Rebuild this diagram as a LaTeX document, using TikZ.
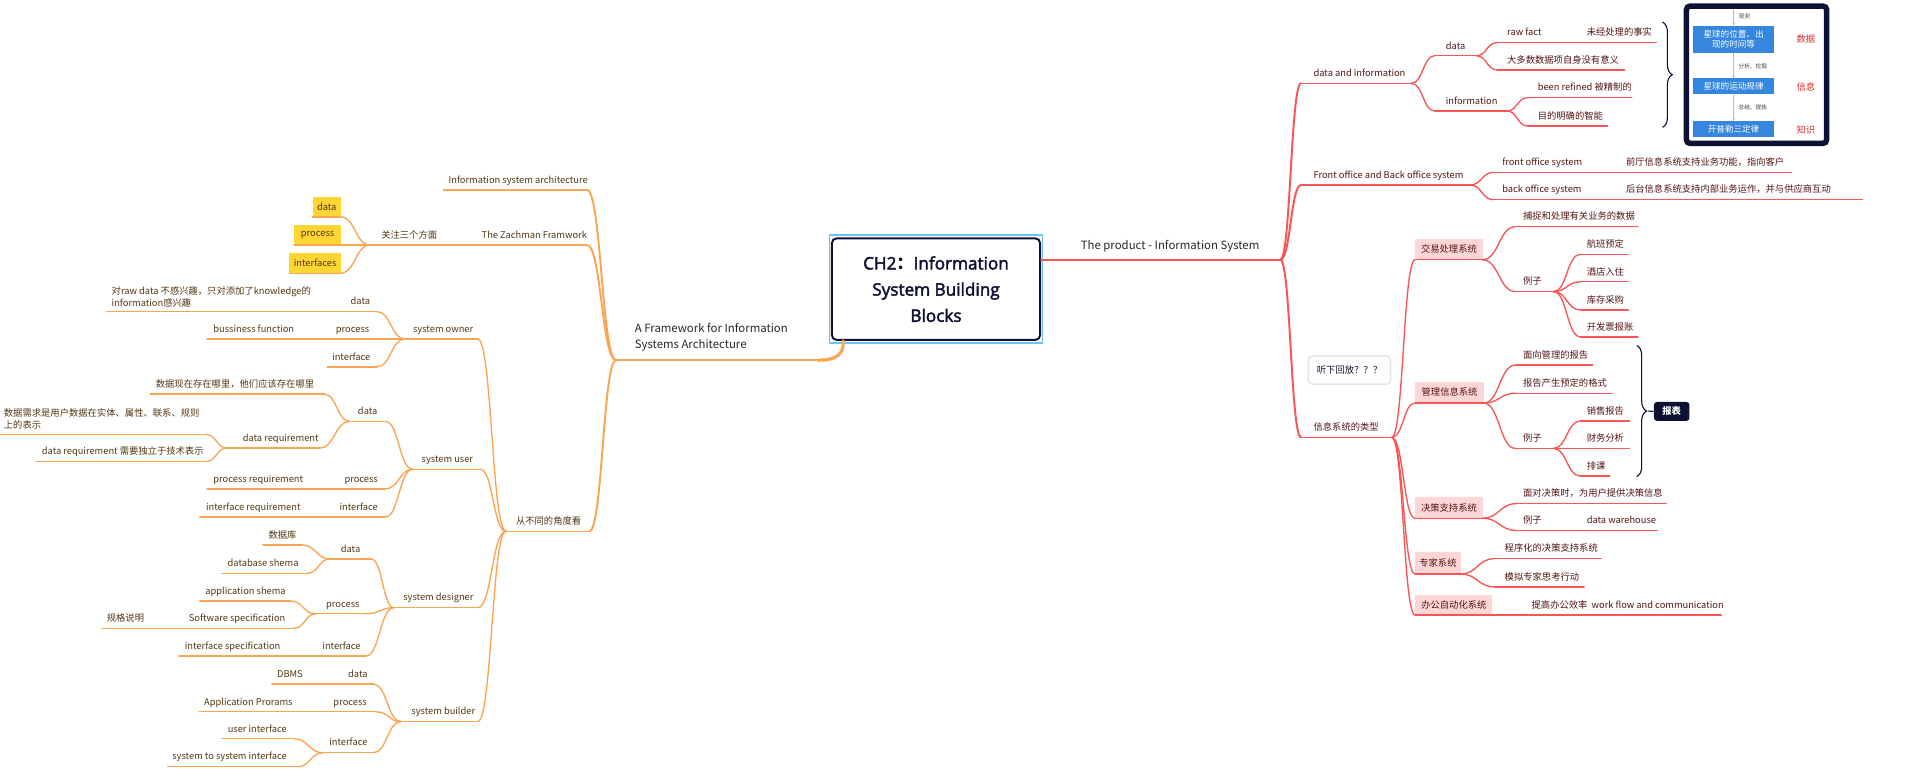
\documentclass[tikz,border=0pt]{standalone}
\usepackage{fontspec}
\setmainfont{Noto Sans CJK SC}
\newfontfamily\tfont{Open Sans}[AutoFakeBold=2.5]
\usetikzlibrary{calc,decorations.pathreplacing,arrows.meta}
\definecolor{rc}{RGB}{247,86,86}
\definecolor{rtc}{RGB}{84,20,20}
\definecolor{pk}{RGB}{255,214,214}
\definecolor{oc}{RGB}{249,166,84}
\definecolor{ltc}{RGB}{84,54,18}
\definecolor{yl}{RGB}{253,214,51}
\definecolor{nv}{RGB}{14,17,51}
\definecolor{lbc}{RGB}{110,195,250}
\definecolor{bbx}{RGB}{52,134,222}
\definecolor{redl}{RGB}{222,44,44}
\definecolor{grb}{RGB}{228,228,228}
\definecolor{l1c}{RGB}{40,40,40}
\tikzset{
  basef/.style={inner sep=0pt, font=\fontsize{7.6}{9.9}\selectfont},
  rtx/.style={basef, text=rtc},
  ltx/.style={basef, text=ltc},
  rln/.style={draw=rc, line width=1.1pt, line cap=round},
  lln/.style={draw=oc, line width=1.1pt, line cap=round},
  rl1/.style={draw=rc, line width=1.6pt, line cap=round},
  ll1/.style={draw=oc, line width=1.6pt, line cap=round},
  l1tx/.style={inner sep=0pt, text=l1c, font=\fontsize{9.3}{13}\selectfont},
  imgtx/.style={inner sep=0pt, font=\fontsize{7}{8.6}\selectfont, text=white, align=center},
  smtx/.style={inner sep=0pt, font=\fontsize{4.6}{5}\selectfont, text=black!75},
  redtx/.style={inner sep=0pt, font=\fontsize{7.6}{9}\selectfont, text=redl},
  arr/.style={draw=black!35!blue!30, line width=0.5pt, -{Stealth[length=2pt,width=2pt]}},
  brc/.style={draw=nv, line width=0.9pt, decorate, decoration={brace, amplitude=8pt}},
}
% topic with underline: name, xl, xr, y-line, x-text, text, side (r/l)
\newcommand\TN[7]{%
  \coordinate (#1-l) at (#2,#4);
  \coordinate (#1-r) at (#3,#4);
  \node[#7tx, anchor=base west] (#1) at (#5,#4-5.5) {#6};
  \draw[#7ln] (#1-l) -- (#1-r);
}
% multi-line topic
\newcommand\MN[7]{%
  \coordinate (#1-l) at (#2,#4);
  \coordinate (#1-r) at (#3,#4);
  \node[#7tx, anchor=south west, align=left] (#1) at (#5,#4-3.6) {#6};
  \draw[#7ln] (#1-l) -- (#1-r);
}
% filled box topic: name, xl, xr, top, y-line, text, side, fill
\newcommand\BX[8]{%
  \coordinate (#1-l) at (#2,#5);
  \coordinate (#1-r) at (#3,#5);
  \node[#7tx, fill=#8, minimum width={(#3-#2)*1pt}, minimum height={(#5-#4)*1pt}, anchor=south west] (#1) at (#2,#5) {#6};
  \draw[#7ln] (#1-l) -- (#1-r);
}
% curved connector
\newcommand\cv[3]{\draw[#1] let \p1=(#2), \p2=(#3) in (\p1) .. controls ({(\x1+\x2)/2},\y1) and ({(\x1+\x2)/2},\y2) .. (\p2);}
\begin{document}
\begin{tikzpicture}[x=1pt,y=-1pt]
\useasboundingbox (0,0) rectangle (1568,634);
\fill[white] (0,0) rectangle (1568,634);

% ---------- root ----------
\draw[lbc, line width=1.2pt] (677,192) rectangle (851,280);
\node[draw=nv, line width=1.6pt, rounded corners=4pt, fill=white, minimum width=170pt, minimum height=83pt, inner sep=0pt, align=center, text=nv, font=\tfont\bfseries\fontsize{14}{21.4}\selectfont] (root) at (764,236) {CH2{\normalfont\bfseries ：}Information\\System Building\\Blocks};

% ---------- right side ----------
\coordinate (prod-l) at (851,212);
\coordinate (prod-r) at (1045,212);
\node[l1tx, anchor=base west] (prod) at (882,203.5) {The product - Information System};
\draw[rl1] (root.east |- prod-l) -- (prod-r);

\TN{di}{1062}{1152}{68}{1072}{data and information}{r}
\TN{fb}{1062}{1200}{151}{1072}{Front office and Back office system}{r}
\TN{ty}{1062}{1136}{357}{1072}{信息系统的类型}{r}
\cv{rl1}{prod-r}{di-l}
\cv{rl1}{prod-r}{fb-l}
\cv{rl1}{prod-r}{ty-l}

\TN{dd}{1171}{1205}{45.5}{1180}{data}{r}
\TN{inf}{1171}{1230}{90.6}{1180}{information}{r}
\cv{rln}{di-r}{dd-l}
\cv{rln}{di-r}{inf-l}
\TN{raw}{1222}{1290}{34.8}{1230}{raw fact}{r}
\TN{rawc}{1290}{1352}{34.8}{1295}{未经处理的事实}{r}
\TN{most}{1222}{1326}{57}{1230}{大多数数据项自身没有意义}{r}
\cv{rln}{dd-r}{raw-l}
\cv{rln}{dd-r}{most-l}
\TN{ref}{1247}{1332}{79.7}{1255}{been refined 被精制的}{r}
\TN{pur}{1247}{1312}{102.9}{1255}{目的明确的智能}{r}
\cv{rln}{inf-r}{ref-l}
\cv{rln}{inf-r}{pur-l}

\TN{fo}{1219}{1300}{140.7}{1226}{front office system}{r}
\TN{foc}{1300}{1462}{140.7}{1327}{前厅信息系统支持业务功能，指向客户}{r}
\TN{bo}{1219}{1300}{163}{1226}{back office system}{r}
\TN{boc}{1300}{1520}{163}{1327}{后台信息系统支持内部业务运作，并与供应商互动}{r}
\cv{rln}{fb-r}{fo-l}
\cv{rln}{fb-r}{bo-l}

\BX{tps}{1155}{1210}{195}{212}{交易处理系统}{r}{pk}
\BX{mis}{1155}{1211}{312}{329}{管理信息系统}{r}{pk}
\BX{dss}{1155}{1210}{406}{423}{决策支持系统}{r}{pk}
\BX{es}{1155}{1192}{451}{468.5}{专家系统}{r}{pk}
\BX{oas}{1155}{1218}{486}{502}{办公自动化系统}{r}{pk}
\foreach \b in {tps,mis,dss,es,oas} {\cv{rln}{ty-r}{\b-l}}

\TN{cap}{1237}{1337}{185}{1243}{捕捉和处理有关业务的数据}{r}
\TN{ex1}{1237}{1268}{238}{1243}{例子}{r}
\cv{rln}{tps-r}{cap-l}
\cv{rln}{tps-r}{ex1-l}
\TN{e11}{1290}{1329}{207.5}{1295}{航班预定}{r}
\TN{e12}{1290}{1329}{230}{1295}{酒店入住}{r}
\TN{e13}{1290}{1329}{253}{1295}{库存采购}{r}
\TN{e14}{1290}{1337}{275}{1295}{开发票报账}{r}
\foreach \b in {e11,e12,e13,e14} {\cv{rln}{ex1-r}{\b-l}}

\TN{mr1}{1237}{1300}{298}{1243}{面向管理的报告}{r}
\TN{mr2}{1237}{1316}{321}{1243}{报告产生预定的格式}{r}
\TN{ex2}{1237}{1268}{366}{1243}{例子}{r}
\foreach \b in {mr1,mr2,ex2} {\cv{rln}{mis-r}{\b-l}}
\TN{e21}{1290}{1330}{343.6}{1295}{销售报告}{r}
\TN{e22}{1290}{1330}{366}{1295}{财务分析}{r}
\TN{e23}{1290}{1314}{388.6}{1295}{排课}{r}
\foreach \b in {e21,e22,e23} {\cv{rln}{ex2-r}{\b-l}}

\TN{ds1}{1238}{1360}{411}{1243}{面对决策时，为用户提供决策信息}{r}
\TN{ex3}{1238}{1290}{433}{1243}{例子}{r}
\TN{dw}{1290}{1353}{433}{1295}{data warehouse}{r}
\cv{rln}{dss-r}{ds1-l}
\cv{rln}{dss-r}{ex3-l}
\cv{rln}{ex3-r}{dw-l}

\TN{es1}{1220}{1307}{456}{1228}{程序化的决策支持系统}{r}
\TN{es2}{1220}{1293}{479}{1228}{模拟专家思考行动}{r}
\cv{rln}{es-r}{es1-l}
\cv{rln}{es-r}{es2-l}

\TN{oa1}{1238}{1297}{502}{1250}{提高办公效率}{r}
\TN{oa2}{1297}{1405}{502}{1299}{work flow and communication}{r}
\cv{rln}{oas-r}{oa1-l}
\cv{rln}{oa1-r}{oa2-l}

% floating note
\node[draw=grb, line width=1.2pt, rounded corners=3pt, fill=white, minimum width=67pt, minimum height=23pt, inner sep=0pt, text=nv, font=\fontsize{7.6}{9}\selectfont] (note) at (1101.5,302) {听下回放？？？};

% brace + report label
\draw[brc] (1336,282) -- (1336,389);
\coordinate (btip) at (1345,335.5);
\node[fill=nv, rounded corners=2.5pt, text=white, inner sep=0pt, minimum width=29pt, minimum height=15.5pt, font=\bfseries\fontsize{7.6}{9}\selectfont] (bb) at (1364.5,335.8) {报表};
\draw[nv, line width=0.9pt] (btip) -- (bb.west);

% brace + picture
\draw[brc] (1357,18) -- (1357,104);
\draw[nv, line width=4.5pt, rounded corners=3pt, fill=white] (1376.5,5) rectangle (1491,117);
\node[fill=bbx, imgtx, minimum width=66pt, minimum height=22pt] (p1) at (1415,32) {星球的位置、出\\现的时间等};
\node[fill=bbx, imgtx, minimum width=66pt, minimum height=13pt] (p2) at (1415,70.5) {星球的运动规律};
\node[fill=bbx, imgtx, minimum width=66pt, minimum height=13pt] (p3) at (1415,105.5) {开普勒三定律};
\coordinate (ptop) at (1415,7.5);
\draw[arr] (ptop) -- (p1.north);
\draw[arr] (p1.south) -- (p2.north);
\draw[arr] (p2.south) -- (p3.north);
\node[smtx, anchor=west] (o1) at (1419,13) {观测};
\node[smtx, anchor=west] (o2) at (1419,54) {分析、挖掘};
\node[smtx, anchor=west] (o3) at (1419,88) {总结、提炼};
\node[redtx] (k1) at (1474,32) {数据};
\node[redtx] (k2) at (1474,71) {信息};
\node[redtx] (k3) at (1474,106) {知识};

% ---------- left side ----------
\coordinate (fw-l) at (503,294);
\coordinate (fw-r) at (668,294);
\node[l1tx, anchor=south west, align=left] (fw) at (518,286.5) {A Framework for Information\\Systems Architecture};
\draw[ll1] (fw-l) -- (fw-r);
\coordinate (rootS) at ($(root.south west)+(10,0)$);
\draw[draw=oc, line width=2.6pt, line cap=round] (fw-r) .. controls (683,294) and (689,289) .. (rootS);

\TN{isa}{362}{479}{155}{366}{Information system architecture}{l}
\TN{zf}{389}{479}{200}{393}{The Zachman Framwork}{l}
\TN{dv}{413}{481}{433.6}{421}{从不同的角度看}{l}
\cv{ll1}{fw-l}{isa-r}
\cv{ll1}{fw-l}{zf-r}
\cv{ll1}{fw-l}{dv-r}

\TN{gz}{302}{389}{200}{311}{关注三个方面}{l}
\cv{lln}{zf-l}{gz-r}
\BX{yd}{255}{278}{161}{177}{data}{l}{yl}
\BX{yp}{240}{278}{184}{200}{process}{l}{yl}
\BX{yi}{236}{278}{206.5}{223}{interfaces}{l}{yl}
\foreach \b in {yd,yp,yi} {\cv{lln}{gz-l}{\b-r}}

\TN{so}{330.6}{390}{276.7}{337}{system owner}{l}
\TN{su}{337}{392}{383}{344}{system user}{l}
\TN{sd}{321.6}{390}{496}{329}{system designer}{l}
\TN{sb}{327.5}{390}{589}{335.6}{system builder}{l}
\foreach \b in {so,su,sd,sb} {\cv{lln}{dv-l}{\b-r}}

% system owner
\TN{sod}{281}{307.7}{254.4}{286}{data}{l}
\MN{sodc}{87}{281}{254.4}{91}{对raw data 不感兴趣，只对添加了knowledge的\\information感兴趣}{l}
\TN{sop}{269}{307.7}{276.7}{274}{process}{l}
\TN{sopc}{169}{269}{276.7}{174}{bussiness function}{l}
\TN{soi}{267}{307.7}{299.5}{271}{interface}{l}
\foreach \b in {sod,sop,soi} {\cv{lln}{so-l}{\b-r}}
\cv{lln}{sod-l}{sodc-r}
\cv{lln}{sop-l}{sopc-r}

% system user
\TN{sud}{285.5}{314.5}{344}{292}{data}{l}
\TN{sud1}{122.6}{264.6}{321.7}{127}{数据现在存在哪里，他们应该存在哪里}{l}
\TN{sud2}{185.5}{261}{365.7}{198}{data requirement}{l}
\MN{sdr1}{0}{167.8}{354.5}{3}{数据需求是用户数据在实体、属性、联系、规则\\上的表示}{l}
\TN{sdr2}{29.7}{167.8}{376.8}{34}{data requirement 需要独立于技术表示}{l}
\TN{sup}{274}{314.5}{399}{281}{process}{l}
\TN{supc}{169}{274}{399}{174}{process requirement}{l}
\TN{sui}{271}{314.5}{422}{277}{interface}{l}
\TN{suic}{163}{271}{422}{168}{interface requirement}{l}
\foreach \b in {sud,sup,sui} {\cv{lln}{su-l}{\b-r}}
\cv{lln}{sud-l}{sud1-r}
\cv{lln}{sud-l}{sud2-r}
\cv{lln}{sud2-l}{sdr1-r}
\cv{lln}{sud2-l}{sdr2-r}
\cv{lln}{sup-l}{supc-r}
\cv{lln}{sui-l}{suic-r}

% system designer
\TN{sdd}{269.4}{303}{456.3}{278}{data}{l}
\TN{sdd1}{214.6}{246.7}{444.9}{219}{数据库}{l}
\TN{sdd2}{181}{250.6}{468}{185.6}{database shema}{l}
\TN{sdp}{257.7}{298.5}{501}{266}{process}{l}
\TN{sdp1}{163}{237.3}{490.6}{167.5}{application shema}{l}
\TN{sdp2}{148}{240}{512.8}{154}{Software specification}{l}
\TN{sdp2c}{83.3}{148}{512.8}{87}{规格说明}{l}
\TN{sdi}{255}{298.5}{535.5}{263}{interface}{l}
\TN{sdic}{146}{255}{535.5}{150.7}{interface specification}{l}
\foreach \b in {sdd,sdp,sdi} {\cv{lln}{sd-l}{\b-r}}
\cv{lln}{sdd-l}{sdd1-r}
\cv{lln}{sdd-l}{sdd2-r}
\cv{lln}{sdp-l}{sdp1-r}
\cv{lln}{sdp-l}{sdp2-r}
\cv{lln}{sdp2-l}{sdp2c-r}
\cv{lln}{sdi-l}{sdic-r}

% system builder
\TN{sbd}{280}{304.6}{558.3}{284}{data}{l}
\TN{sbdc}{221.9}{280}{558.3}{226}{DBMS}{l}
\TN{sbp}{268}{307}{581}{272}{process}{l}
\TN{sbpc}{162.4}{268}{581}{166.5}{Application Prorams}{l}
\TN{sbi}{263.7}{304.6}{614.4}{268.6}{interface}{l}
\TN{sbi1}{181}{240}{603}{185.7}{user interface}{l}
\TN{sbi2}{136.7}{243}{625.8}{140.5}{system to system interface}{l}
\foreach \b in {sbd,sbp,sbi} {\cv{lln}{sb-l}{\b-r}}
\cv{lln}{sbd-l}{sbdc-r}
\cv{lln}{sbp-l}{sbpc-r}
\cv{lln}{sbi-l}{sbi1-r}
\cv{lln}{sbi-l}{sbi2-r}
\end{tikzpicture}
\end{document}
